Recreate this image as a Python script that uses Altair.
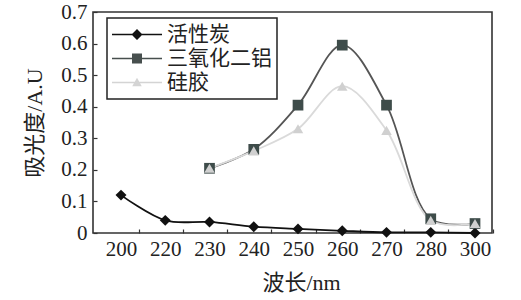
import altair as alt
import pandas as pd

# ---- data ----
wavelengths = ["200", "220", "230", "240", "250", "260", "270", "280", "300"]
series_names = ["活性炭", "三氧化二铝", "硅胶"]

carbon_wl = ["200", "220", "230", "240", "250", "260", "270", "280", "300"]
carbon = [0.12, 0.04, 0.035, 0.02, 0.013, 0.007, 0.002, 0.002, 0.0]

alumina_wl = ["230", "240", "250", "260", "270", "280", "300"]
alumina = [0.205, 0.265, 0.405, 0.595, 0.405, 0.045, 0.03]

silica_wl = ["230", "240", "250", "260", "270", "280", "300"]
silica = [0.205, 0.26, 0.33, 0.465, 0.325, 0.04, 0.03]

y_ticks = [0, 0.1, 0.2, 0.3, 0.4, 0.5, 0.6, 0.7]

# ---- styles ----
line_colors = ["#111111", "#555555", "#dadada"]
point_colors = ["#111111", "#3e4c4a", "#d0d0d0"]
legend_colors = ["#111111", "#474f4e", "#d4d4d4"]
point_shapes = ["diamond", "square", "triangle-up"]
point_sizes = [120, 110, 70]
bar = "M-1,-0.032L1,-0.032L1,0.032L-1,0.032Z "
legend_shapes = [
    bar + "M0,-0.22L0.22,0L0,0.22L-0.22,0Z",
    bar + "M-0.2,-0.2L0.2,-0.2L0.2,0.2L-0.2,0.2Z",
    bar + "M0,-0.19L0.19,0.15L-0.19,0.15Z",
]

rows = []
for name, wls, vals in [(series_names[0], carbon_wl, carbon),
                        (series_names[1], alumina_wl, alumina),
                        (series_names[2], silica_wl, silica)]:
    for w, v in zip(wls, vals):
        rows.append({"series": name, "idx": wavelengths.index(w), "wl": w, "value": v})
df = pd.DataFrame(rows)

font_latin = "Liberation Serif, Noto Sans CJK SC"
label_expr = "[" + ",".join("'" + w + "'" for w in wavelengths) + "][datum.value]"

x_enc = alt.X(
    "idx:Q",
    scale=alt.Scale(domain=[-0.633, 8.384], nice=False, zero=False),
    axis=alt.Axis(
        values=list(range(len(wavelengths))),
        labelExpr=label_expr,
        title="波长/nm",
        offset=-4,
        tickSize=4,
        tickOffset=17.5,
        labelOffset=-17.5,
        labelPadding=5,
        titlePadding=13,
        titleX=208,
    ),
)
y_enc = alt.Y(
    "value:Q",
    scale=alt.Scale(domain=[0, 0.7], nice=False, zero=True),
    axis=alt.Axis(
        values=y_ticks,
        labelExpr="datum.value == 0 ? '0' : format(datum.value, '.1f')",
        title="吸光度/A.U",
        offset=-4,
        tickSize=4,
        labelPadding=6,
        titlePadding=14,
    ),
)

base = alt.Chart(df)

lines = base.mark_line(interpolate="catmull-rom", strokeWidth=1.8).encode(
    x=x_enc,
    y=y_enc,
    color=alt.Color("series:N", scale=alt.Scale(domain=series_names, range=line_colors), legend=None),
    detail="series:N",
)

points = base.mark_point(filled=True, opacity=1).encode(
    x=x_enc,
    y=y_enc,
    color=alt.Color("series:N", scale=alt.Scale(domain=series_names, range=point_colors), legend=None),
    shape=alt.Shape("series:N", scale=alt.Scale(domain=series_names, range=point_shapes), legend=None),
    size=alt.Size("series:N", scale=alt.Scale(domain=series_names, range=point_sizes), legend=None),
)

leg = dict(
    title=None,
    orient="none",
    legendX=14,
    legendY=6,
    symbolSize=2500,
    symbolStrokeWidth=0,
    clipHeight=23,
    rowPadding=1,
    padding=5,
    labelOffset=5,
    labelFontSize=21,
    labelFont=font_latin,
    labelColor="#222222",
    strokeColor="#222222",
    fillColor="#ffffff",
)

legend_layer = base.transform_filter("false").mark_point(filled=True, opacity=1, size=2500).encode(
    x=x_enc,
    y=y_enc,
    color=alt.Color("series:N", scale=alt.Scale(domain=series_names, range=legend_colors), legend=alt.Legend(**leg)),
    shape=alt.Shape("series:N", scale=alt.Scale(domain=series_names, range=legend_shapes), legend=alt.Legend(**leg)),
)

chart = (
    alt.layer(lines, points, legend_layer)
    .resolve_scale(color="independent", shape="independent")
    .properties(
        width=399,
        height=221,
        autosize=alt.AutoSizeParams(type="none"),
        padding={"left": 93, "top": 12, "right": 29, "bottom": 67},
        background="#ffffff",
    )
    .configure_view(stroke="#333333", strokeWidth=1.6)
    .configure_axis(
        grid=False,
        domain=False,
        tickColor="#333333",
        tickWidth=1.2,
        labelFont=font_latin,
        labelFontSize=21,
        labelColor="#222222",
        titleFont=font_latin,
        titleFontSize=22,
        titleFontWeight="normal",
        titleColor="#222222",
    )
    .configure_legend(strokeWidth=1.5)
)

chart.save("out.html", embed_options={"renderer": "svg", "actions": False})
